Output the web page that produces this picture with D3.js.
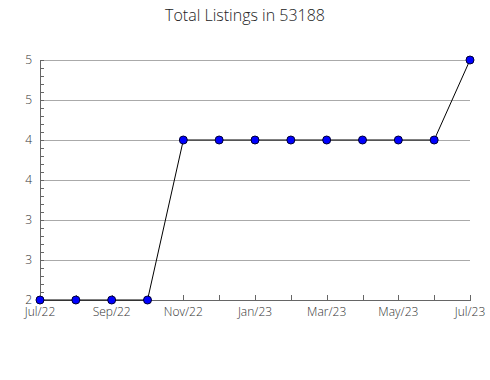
<!DOCTYPE html>
<html>
<head>
<meta charset="utf-8">
<script src="https://cdn.jsdelivr.net/npm/d3@7"></script>
<style>
  body { margin: 0; background: #fff; }
  svg text { font-family: "Open Sans", sans-serif; }
</style>
</head>
<body>
<div id="chart"></div>
<script>
var months = ['Jul/22', 'Aug/22', 'Sep/22', 'Oct/22', 'Nov/22', 'Dec/22', 'Jan/23',
              'Feb/23', 'Mar/23', 'Apr/23', 'May/23', 'Jun/23', 'Jul/23'];
var listings = [2, 2, 2, 2, 4, 4, 4, 4, 4, 4, 4, 4, 5];
var yTicks = [2, 2.5, 3, 3.5, 4, 4.5, 5];
var xLabels = ['Jul/22', 'Sep/22', 'Nov/22', 'Jan/23', 'Mar/23', 'May/23', 'Jul/23'];

var width = 490, height = 380,
    plotLeft = 40, plotRight = 470, plotTop = 60, plotBottom = 300;

var svg = d3.select('#chart').append('svg')
    .attr('width', width)
    .attr('height', height);

var x = d3.scalePoint().domain(months).range([plotLeft, plotRight]);
var y = d3.scaleLinear().domain([2, 5]).range([plotBottom, plotTop]);

svg.append('text')
    .attr('x', width / 2)
    .attr('y', 21)
    .attr('text-anchor', 'middle')
    .attr('font-size', 16)
    .attr('font-weight', 300)
    .attr('fill', '#222')
    .text('Total Listings in 53188');

// grid lines
svg.append('g')
    .selectAll('line')
    .data(yTicks)
    .enter()
    .append('line')
    .attr('x1', plotLeft)
    .attr('x2', plotRight)
    .attr('y1', function(d) { return Math.round(y(d)) + 0.5; })
    .attr('y2', function(d) { return Math.round(y(d)) + 0.5; })
    .attr('stroke', '#aaa');

// minor ticks on y axis
svg.append('g')
    .selectAll('line')
    .data(d3.range(20, 51).map(function(v) { return v / 10; }))
    .enter()
    .append('line')
    .attr('x1', plotLeft)
    .attr('x2', plotLeft + 4)
    .attr('y1', function(d) { return Math.round(y(d)) + 0.5; })
    .attr('y2', function(d) { return Math.round(y(d)) + 0.5; })
    .attr('stroke', '#666');

// y labels
svg.append('g')
    .selectAll('text')
    .data(yTicks)
    .enter()
    .append('text')
    .attr('x', plotLeft - 8)
    .attr('y', function(d) { return y(d) + 4; })
    .attr('text-anchor', 'end')
    .attr('font-size', 12)
    .attr('font-weight', 300)
    .attr('fill', '#333')
    .text(function(d) { return d3.format('.0f')(d); });

// x ticks
svg.append('g')
    .selectAll('line')
    .data(months)
    .enter()
    .append('line')
    .attr('x1', function(d) { return Math.round(x(d)) + 0.5; })
    .attr('x2', function(d) { return Math.round(x(d)) + 0.5; })
    .attr('y1', plotBottom)
    .attr('y2', plotBottom - 5)
    .attr('stroke', '#666');

svg.append('g')
    .selectAll('text')
    .data(xLabels)
    .enter()
    .append('text')
    .attr('x', function(d) { return x(d); })
    .attr('y', plotBottom + 16)
    .attr('text-anchor', 'middle')
    .attr('font-size', 12)
    .attr('font-weight', 300)
    .attr('fill', '#333')
    .text(function(d) { return d; });

// axis lines
svg.append('line')
    .attr('x1', plotLeft + 0.5).attr('x2', plotLeft + 0.5)
    .attr('y1', plotTop).attr('y2', plotBottom)
    .attr('stroke', '#666');
svg.append('line')
    .attr('x1', plotLeft).attr('x2', plotRight + 1)
    .attr('y1', plotBottom + 0.5).attr('y2', plotBottom + 0.5)
    .attr('stroke', '#666');

// series
var line = d3.line()
    .x(function(d, i) { return x(months[i]); })
    .y(function(d) { return y(d); });

svg.append('path')
    .datum(listings)
    .attr('d', line)
    .attr('fill', 'none')
    .attr('stroke', '#000')
    .attr('stroke-width', 1);

svg.append('g')
    .selectAll('circle')
    .data(listings)
    .enter()
    .append('circle')
    .attr('cx', function(d, i) { return x(months[i]); })
    .attr('cy', function(d) { return y(d); })
    .attr('r', 4)
    .attr('fill', '#0000ff')
    .attr('stroke', '#000033')
    .attr('stroke-width', 1);
</script>
</body>
</html>
